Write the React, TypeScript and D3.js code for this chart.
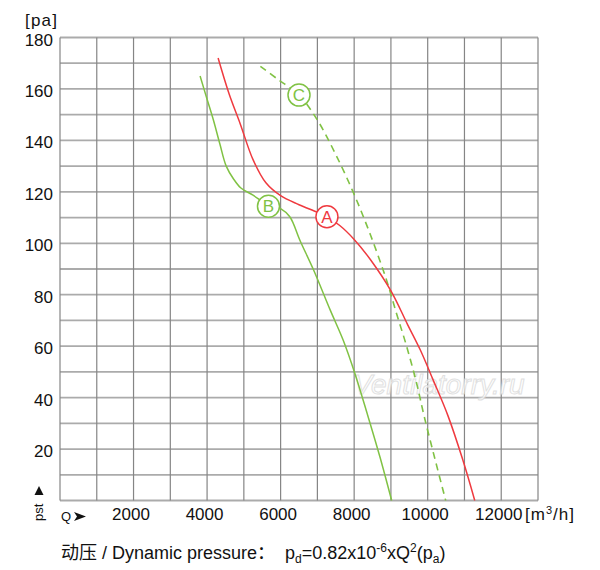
import React from 'react';
import * as d3 from 'd3';

// curve A (red, solid)
const flowA = [4300, 4600, 4900, 5250, 5600, 6000, 6500, 7000, 7250, 7600, 8000, 8450, 9000, 9450, 9800, 10150, 10550, 10950, 11280];
const presA = [172, 158, 146.5, 132.5, 123.5, 118.5, 115, 112, 110.3, 107, 101.5, 93.5, 81.5, 68.5, 58.5, 46.8, 33, 16, 0];

// curve B (green, solid)
const flowB = [3810, 4000, 4170, 4350, 4520, 4720, 4920, 5250, 5650, 6000, 6250, 6530, 6900, 7350, 7700, 8020, 8350, 8700, 9020];
const presB = [165, 156, 148, 138.5, 130, 125, 121.5, 118.7, 115, 113.5, 110.3, 101, 89.5, 74, 62.4, 49.4, 34, 17, 0];

// curve C (green, dashed)
const flowC = [5450, 5900, 6500, 7000, 7500, 8000, 8450, 8880, 9150, 9430, 9700, 9900, 10200, 10490];
const presC = [168.8, 164, 157.6, 147.9, 134.5, 119, 103, 85.7, 72.8, 59.8, 45.5, 33, 16, 0];

const xTicks = [2000, 4000, 6000, 8000, 10000, 12000];
const yTicks = [20, 40, 60, 80, 100, 120, 140, 160, 180];

const curveLabels = [
  { name: 'A', q: 7260, p: 110.3, color: '#ef3a3f' },
  { name: 'B', q: 5670, p: 114.4, color: '#80c244' },
  { name: 'C', q: 6500, p: 157.6, color: '#80c244' },
];

const RED = '#ef3a3f';
const GREEN = '#80c244';
const FONT = "'Liberation Sans', Arial, 'Noto Sans CJK SC', sans-serif";

export default function App() {
  const x = d3.scaleLinear().domain([0, 13000]).range([60, 538]);
  const y = d3.scaleLinear().domain([0, 180]).range([500.5, 37.5]);

  const line = d3
    .line<[number, number]>()
    .x((d) => x(d[0]))
    .y((d) => y(d[1]))
    .curve(d3.curveCatmullRom.alpha(0.5));

  const zip = (qs: number[], ps: number[]) => qs.map((q, i) => [q, ps[i]] as [number, number]);

  const vLines = d3.range(0, 13001, 1000);
  const hLines = d3.range(0, 181, 10);

  return (
    <div style={{ position: 'absolute', left: 0, top: 0 }}>
      <svg width={600} height={570} style={{ display: 'block', fontFamily: FONT }}>
        <rect width={600} height={570} fill="#fff" />

        {/* grid */}
        {hLines.map((v) => (
          <line key={'h' + v} x1={x(0)} x2={x(13000)} y1={y(v)} y2={y(v)} stroke="#ababab" strokeWidth={1.8} />
        ))}
        {vLines.map((v) => (
          <line key={'v' + v} x1={x(v)} x2={x(v)} y1={y(0)} y2={y(180)} stroke="#858585" strokeWidth={1.2} />
        ))}

        {/* watermark */}
        <text
          x={439}
          y={394}
          textAnchor="middle"
          fontSize={28}
          fontStyle="italic"
          fill="#fff"
          stroke="#d9d9d9"
          strokeWidth={1}
          opacity={0.8}
        >
          Ventilatorry.ru
        </text>

        {/* curves */}
        <path d={line(zip(flowB, presB)) || ''} fill="none" stroke={GREEN} strokeWidth={1.5} />
        <path d={line(zip(flowC, presC)) || ''} fill="none" stroke={GREEN} strokeWidth={1.6} strokeDasharray="7,5" />
        <path d={line(zip(flowA, presA)) || ''} fill="none" stroke={RED} strokeWidth={1.5} />

        {curveLabels.map((l) => (
          <g key={l.name} transform={`translate(${x(l.q)},${y(l.p)})`}>
            <circle r={11} fill="#fff" stroke={l.color} strokeWidth={1.5} />
            <text y={6} textAnchor="middle" fontSize={17} fill={l.color}>
              {l.name}
            </text>
          </g>
        ))}

        {/* y axis labels */}
        {yTicks.map((v) => (
          <text key={'yt' + v} x={53} y={y(v) + 8} textAnchor="end" fontSize={17} fill="#111">
            {v}
          </text>
        ))}
        <text x={25} y={26} fontSize={17} letterSpacing={1.2} fill="#111">
          [pa]
        </text>

        {/* x axis labels */}
        {xTicks.map((v) => (
          <text key={'xt' + v} x={x(v) - 2.5} y={520} textAnchor="middle" fontSize={17} fill="#111">
            {v}
          </text>
        ))}
        <text x={525} y={520} fontSize={17} letterSpacing={1} fill="#111">
          [m<tspan dy={-6} fontSize={11}>3</tspan>
          <tspan dy={6}>/h]</tspan>
        </text>

        {/* Q arrow */}
        <text x={61} y={521} fontSize={13} fill="#111">
          Q
        </text>
        <path d="M74,512 L86,516.5 L74,521 L77,516.5 Z" fill="#111" />

        {/* pst arrow */}
        <text transform="translate(43,521) rotate(-90)" fontSize={13} fill="#111">
          pst
        </text>
        <path d="M39,486 L43.5,495 L34.5,495 Z" fill="#111" />

        {/* caption */}
        <text x={61} y={559} fontSize={18} fill="#111">
          动压 / Dynamic pressure：<tspan dx={10}>p</tspan>
          <tspan dy={4} fontSize={12}>d</tspan>
          <tspan dy={-4}>=0.82x10</tspan>
          <tspan dy={-7} fontSize={12}>-6</tspan>
          <tspan dy={7}>xQ</tspan>
          <tspan dy={-7} fontSize={12}>2</tspan>
          <tspan dy={7}>(p</tspan>
          <tspan dy={4} fontSize={12}>a</tspan>
          <tspan dy={-4}>)</tspan>
        </text>
      </svg>
    </div>
  );
}
